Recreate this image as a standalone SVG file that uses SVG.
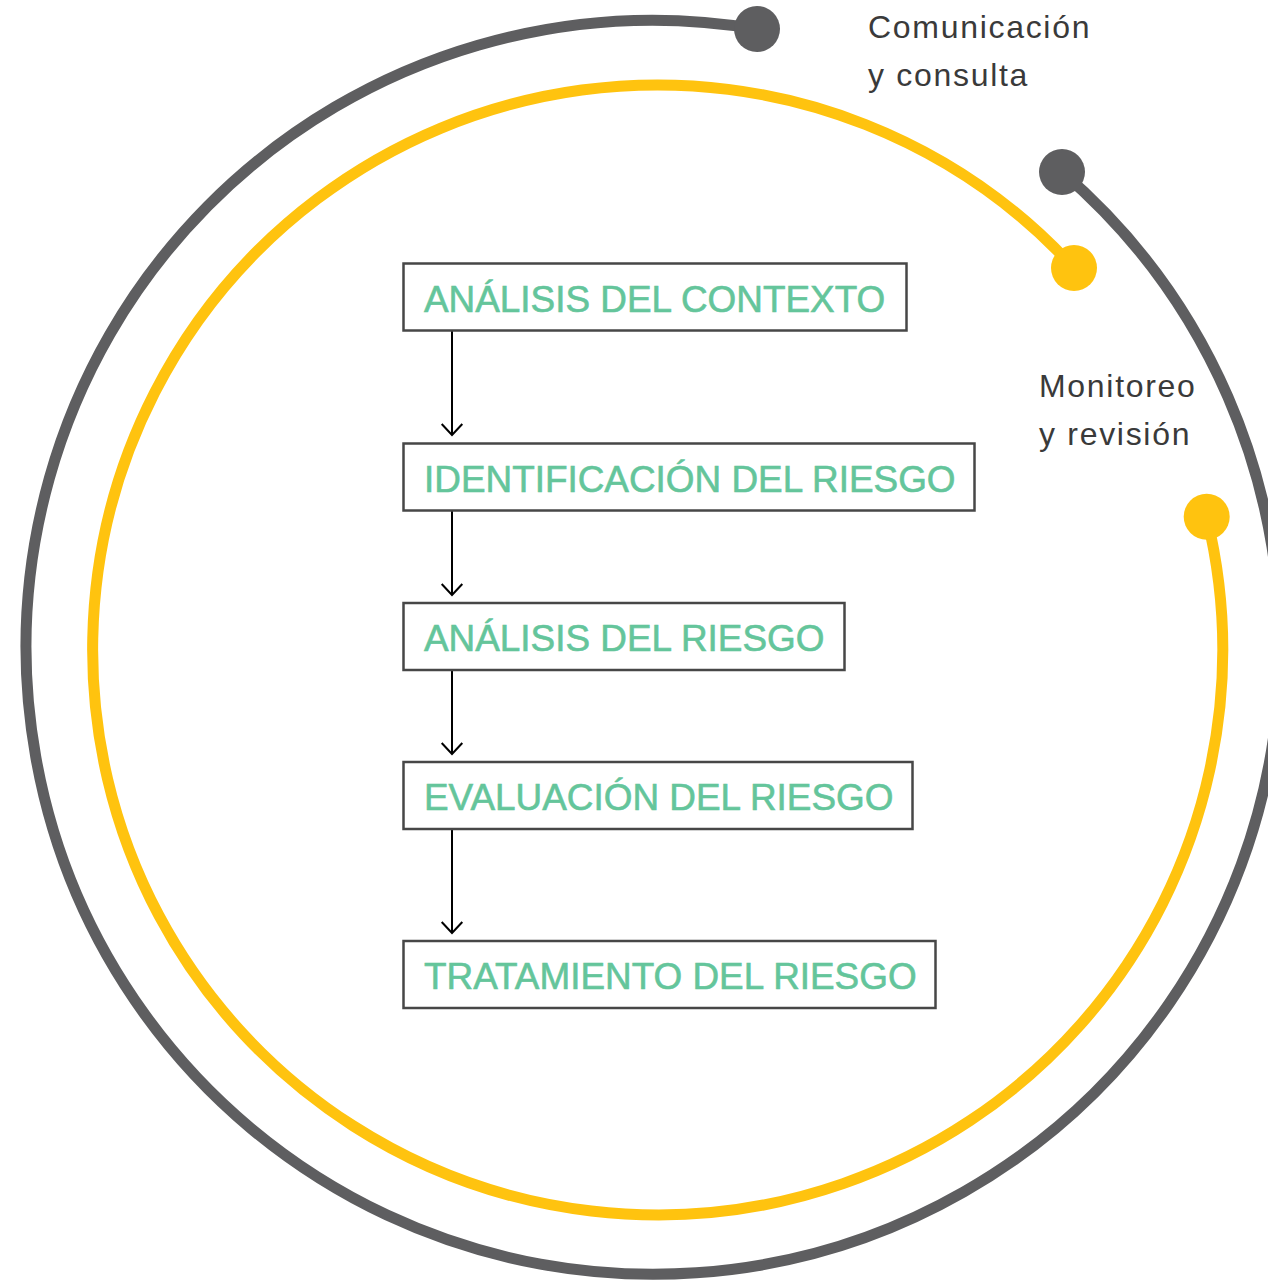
<svg xmlns="http://www.w3.org/2000/svg" width="1268" height="1281" viewBox="0 0 1268 1281">
<style>
.ring{fill:none;stroke-width:11;stroke-linecap:butt}
.gray{stroke:#5e5e60}
.yellow{stroke:#ffc30f}
.dotg{fill:#5e5e60}
.doty{fill:#ffc30f}
.box{fill:#ffffff;stroke:#474747;stroke-width:2.5}
.btxt{font-family:"Liberation Sans",Arial,sans-serif;font-size:36.9px;fill:#64c59b;stroke:#64c59b;stroke-width:0.6}
.lbl{font-family:"Liberation Sans",Arial,sans-serif;font-size:32px;fill:#3a3a3a;letter-spacing:1.7px}
.conn{stroke:#000;stroke-width:2;fill:none}
</style>
<defs>
<marker id="arr" markerUnits="userSpaceOnUse" viewBox="-13 -12 15 24" markerWidth="15" markerHeight="24" refX="0" refY="0" orient="auto">
<path d="M -11 -10.3 L 0 0 L -11 10.3" fill="none" stroke="#000" stroke-width="2"/>
</marker>
</defs>
<rect width="1268" height="1281" fill="#ffffff"/>
<g id="ring-comunicacion">
<path class="ring gray" d="M 757 29 A 627 627 0 1 0 1062 172"/>
<circle class="dotg" cx="757" cy="29" r="23"/>
<circle class="dotg" cx="1062" cy="172" r="23"/>
</g>
<g id="ring-monitoreo">
<path class="ring yellow" d="M 1074 268 A 565 565 0 1 0 1206.7 516.7"/>
<circle class="doty" cx="1074" cy="268" r="23"/>
<circle class="doty" cx="1206.7" cy="516.7" r="23"/>
</g>
<g id="label-comunicacion">
<text class="lbl" x="868" y="38">Comunicación</text>
<text class="lbl" x="868" y="86">y consulta</text>
</g>
<g id="label-monitoreo">
<text class="lbl" x="1039" y="396.5">Monitoreo</text>
<text class="lbl" x="1039" y="444.5">y revisión</text>
</g>
<g id="connectors">
<line class="conn" x1="452" y1="331" x2="452" y2="435" marker-end="url(#arr)"/>
<line class="conn" x1="452" y1="511" x2="452" y2="595" marker-end="url(#arr)"/>
<line class="conn" x1="452" y1="670" x2="452" y2="754" marker-end="url(#arr)"/>
<line class="conn" x1="452" y1="829" x2="452" y2="933" marker-end="url(#arr)"/>
</g>
<g id="node-contexto">
<rect class="box" x="403.5" y="263.5" width="503" height="67"/>
<text class="btxt" x="424" y="311.5">ANÁLISIS DEL CONTEXTO</text>
</g>
<g id="node-identificacion">
<rect class="box" x="403.5" y="443.5" width="571" height="67"/>
<text class="btxt" x="424" y="491.5">IDENTIFICACIÓN DEL RIESGO</text>
</g>
<g id="node-analisis">
<rect class="box" x="403.5" y="603" width="441" height="67"/>
<text class="btxt" x="424" y="651">ANÁLISIS DEL RIESGO</text>
</g>
<g id="node-evaluacion">
<rect class="box" x="403.5" y="762" width="509" height="67"/>
<text class="btxt" x="424" y="810">EVALUACIÓN DEL RIESGO</text>
</g>
<g id="node-tratamiento">
<rect class="box" x="403.5" y="941" width="532" height="67"/>
<text class="btxt" x="424" y="989">TRATAMIENTO DEL RIESGO</text>
</g>
</svg>
